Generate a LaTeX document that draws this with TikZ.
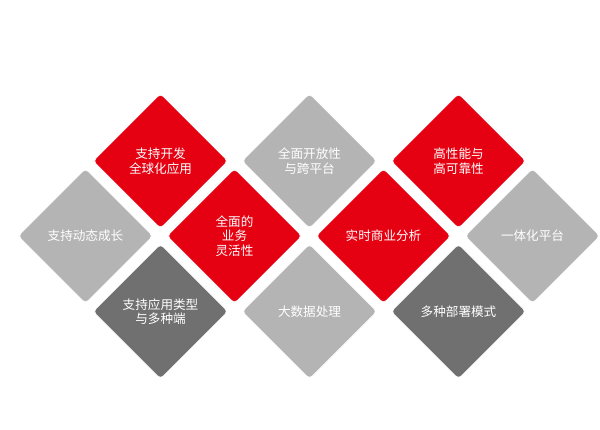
\documentclass[tikz,border=0pt]{standalone}
\usepackage{fontspec}
\setmainfont{Noto Sans CJK SC}
\usetikzlibrary{shapes.geometric}
\definecolor{cred}{HTML}{E50012}
\definecolor{clight}{HTML}{B4B4B5}
\definecolor{cdark}{HTML}{707070}
\tikzset{
  dia/.style={diamond, aspect=1, minimum width=135pt, minimum height=135pt, inner sep=0pt,
    rounded corners=4pt, draw=white, line width=0.6pt, text=white, align=center,
    font=\fontsize{12.6pt}{14.5pt}\selectfont},
  redd/.style={dia, fill=cred},
  lightd/.style={dia, fill=clight},
  darkd/.style={dia, fill=cdark}
}
\begin{document}
\begin{tikzpicture}[x=1pt,y=-1pt]
\useasboundingbox (0,0) rectangle (600,429);
\node[redd]   (a) at (160.5,161) {支持开发\\全球化应用};
\node[lightd] (b) at (309.5,161) {全面开放性\\与跨平台};
\node[redd]   (c) at (458.5,161) {高性能与\\高可靠性};
\node[lightd] (d) at (85.5,236) {支持动态成长};
\node[redd]   (e) at (234.5,236) {全面的\\业务\\灵活性};
\node[redd]   (f) at (383.5,236) {实时商业分析};
\node[lightd] (g) at (532.5,236) {一体化平台};
\node[darkd]  (h) at (160.5,311.5) {支持应用类型\\与多种端};
\node[lightd] (i) at (309.5,311.5) {大数据处理};
\node[darkd]  (j) at (458.5,311.5) {多种部署模式};
\end{tikzpicture}
\end{document}
